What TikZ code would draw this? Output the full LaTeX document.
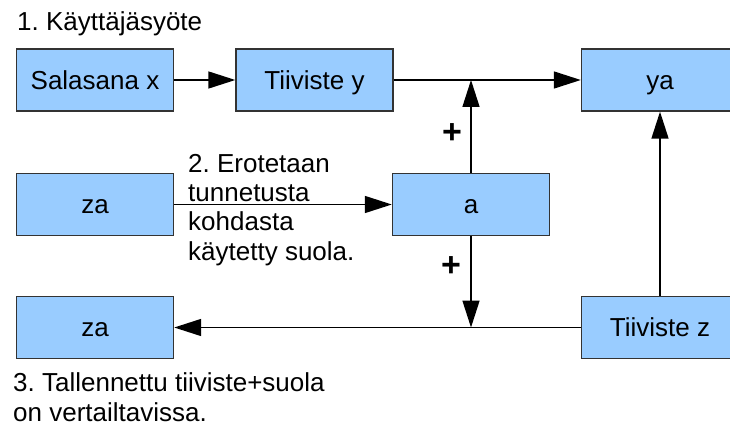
\documentclass[tikz,border=0pt]{standalone}
\usepackage{fontspec}
\setmainfont{Liberation Sans}
\usetikzlibrary{arrows.meta}
\definecolor{boxblue}{RGB}{153,204,255}
\definecolor{boxedge}{RGB}{51,51,51}
\frenchspacing
\tikzset{
  blk/.style={draw=boxedge, fill=boxblue, line width=1.4pt, minimum width=157pt, minimum height=62pt, inner sep=0pt, text height=18.6pt, text depth=0pt, font=\fontsize{26}{30}\selectfont},
  lbl/.style={anchor=base west, inner sep=0pt, align=left, font=\fontsize{26}{29.5}\selectfont},
  plus/.style={inner sep=0pt, font=\fontsize{34}{36}\selectfont\bfseries},
  conn/.style={line width=1.5pt, -{Triangle[length=27pt,width=17pt]}}
}
\begin{document}
\begin{tikzpicture}[x=1pt,y=-1pt]
\clip (0,0) rectangle (730,430);
\fill[white] (0,0) rectangle (730,430);
\node[lbl] (t1) at (17,31) {1. Käyttäjäsyöte};
\node[blk] (sx) at (95,80) {Salasana x};
\node[blk] (ty) at (314.5,80) {Tiiviste y};
\node[blk] (ya) at (660,80) {ya};
\node[blk] (za1) at (95,204.5) {za};
\node[blk] (a) at (471,204.5) {a};
\node[blk] (za2) at (95,327.5) {za};
\node[blk] (tz) at (660,327.5) {Tiiviste z};
\node[lbl] (t2) at (188,260.5) {2. Erotetaan\\tunnetusta\\kohdasta\\käytetty suola.};
\node[lbl] (t3) at (13,421) {3. Tallennettu tiiviste+suola\\on vertailtavissa.};
\node[plus] (p1) at (452,134) {+};
\node[plus] (p2) at (451,267) {+};
\coordinate (j1) at (a.north |- ty.east);
\coordinate (j2) at (a.south |- tz.west);
\draw[conn] (sx) -- (ty);
\draw[conn] (ty) -- (ya);
\draw[conn] (za1) -- (a);
\draw[conn] (a.north) -- (j1);
\draw[conn] (a.south) -- (j2);
\draw[conn] (tz) -- (za2);
\draw[conn] (tz) -- (ya);
\end{tikzpicture}
\end{document}
